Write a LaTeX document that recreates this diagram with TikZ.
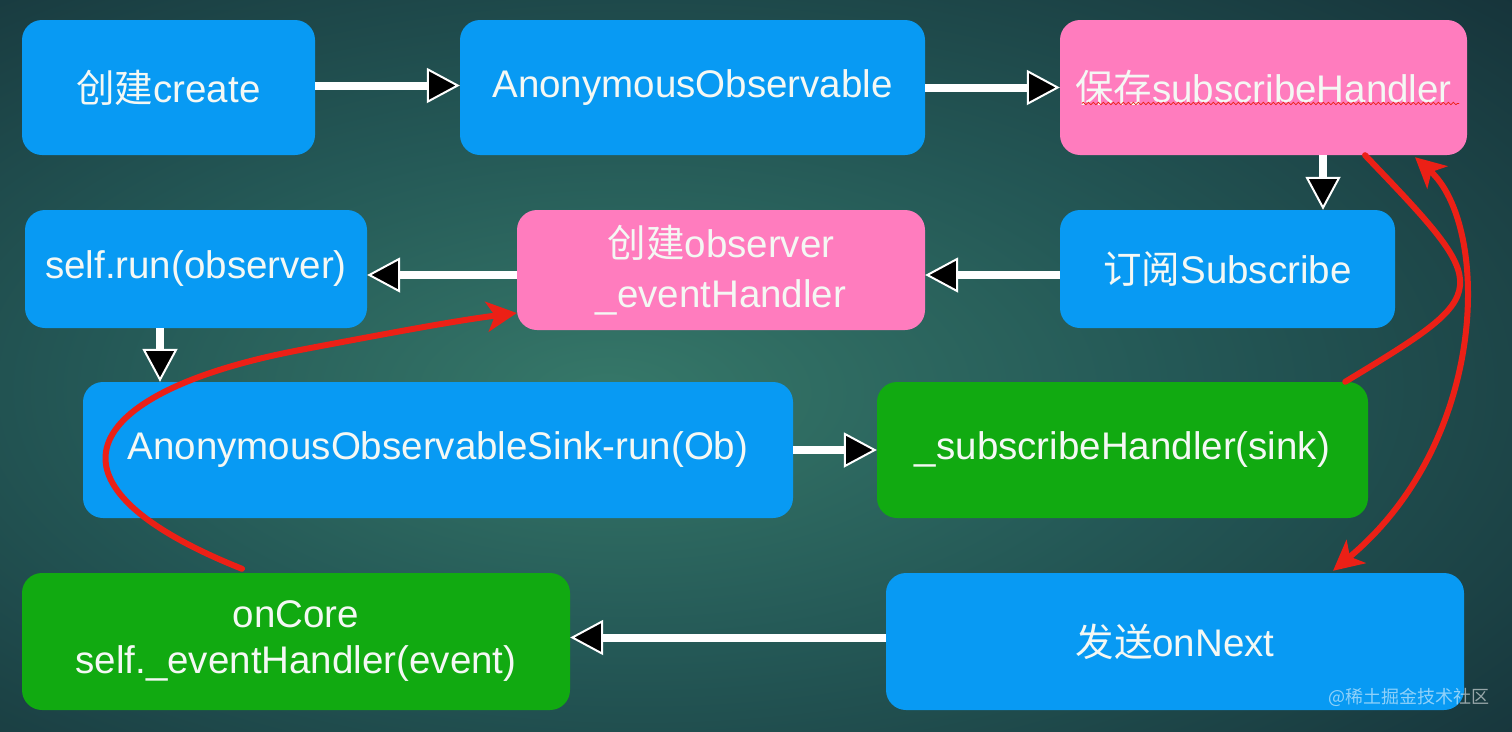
\documentclass[tikz,border=0pt]{standalone}
\usepackage{fontspec}
\setmainfont{Liberation Sans}
\newfontfamily\cjk{Noto Sans CJK SC}
\usetikzlibrary{arrows.meta,calc,decorations.pathmorphing}
\definecolor{boxblue}{RGB}{8,154,243}
\definecolor{boxpink}{RGB}{255,124,190}
\definecolor{boxgreen}{RGB}{17,170,17}
\definecolor{redarrow}{RGB}{236,32,22}
\definecolor{bgin}{RGB}{54,120,105}
\definecolor{bgmid}{RGB}{36,88,86}
\definecolor{bgout}{RGB}{20,46,54}
\definecolor{txt}{RGB}{244,248,244}
\pgfdeclareradialshading{bgshade}{\pgfpoint{-5bp}{-2bp}}{color(0bp)=(bgin); color(18bp)=(bgmid); color(42bp)=(bgout); color(100bp)=(bgout)}
\tikzset{
  rt/.tip={Stealth[length=30pt,width=30pt,inset=8pt]},
  box/.style={rectangle, rounded corners=20pt, inner sep=0pt, text=txt, align=center,
    font=\fontsize{38.5pt}{50pt}\selectfont},
  bluebox/.style={box, fill=boxblue},
  pinkbox/.style={box, fill=boxpink},
  greenbox/.style={box, fill=boxgreen},
  flow/.style={draw=white, line width=8pt,
    -{Triangle[length=33pt,width=35pt,fill=black,line width=2pt]}},
  redflow/.style={draw=redarrow, line width=6pt, line cap=round}
}
\begin{document}
\begin{tikzpicture}[x=1pt,y=-1pt]
\useasboundingbox (0,0) rectangle (1512,731);
\shade[shading=bgshade] (0,0) rectangle (1512,731);

\node[bluebox, minimum width=293pt, minimum height=135pt] (n1) at (168.5,87.5) {{\cjk 创建}create};
\node[bluebox, minimum width=465pt, minimum height=135pt] (n2) at (692.5,87.5) {AnonymousObservable};
\node[pinkbox, minimum width=407pt, minimum height=135pt] (n3) at (1263.5,87.5) {{\cjk 保存}subscribeHandler};
\node[bluebox, minimum width=342pt, minimum height=118pt] (n4) at (196,269) {self.run(observer)};
\node[pinkbox, minimum width=408pt, minimum height=120pt] (n5) at (721,270) {{\cjk 创建}observer\\\_eventHandler};
\node[bluebox, minimum width=335pt, minimum height=118pt] (n6) at (1227.5,269) {{\cjk 订阅}Subscribe};
\node[bluebox, minimum width=710pt, minimum height=136pt] (n7) at (438,450) {AnonymousObservableSink-run(Ob)};
\node[greenbox, minimum width=491pt, minimum height=136pt] (n8) at (1122.5,450) {\_subscribeHandler(sink)};
\node[greenbox, minimum width=548pt, minimum height=137pt, font=\fontsize{38.5pt}{46pt}\selectfont] (n9) at (296,641.5) {onCore\\self.\_eventHandler(event)};
\node[bluebox, minimum width=578pt, minimum height=137pt] (n10) at (1175,641.5) {{\cjk 发送}onNext};

% spell-check underline
\coordinate (ul1) at ($(n3.west)+(22,16)$);
\coordinate (ul2) at ($(n3.east)+(-8,16)$);
\draw[redarrow, line width=0.8pt, decorate, decoration={snake, amplitude=1.2pt, segment length=5pt}] (ul1) -- (ul2);

% white flow arrows
\draw[flow] ([yshift=2pt]n1.east) -- ([yshift=2pt]n1.east -| n2.west);
\draw[flow] (n2.east) -- (n3.west);
\draw[flow] ([xshift=59.5pt]n3.south) -- ([xshift=59.5pt]n3.south |- n6.north);
\draw[flow] ([yshift=-6pt]n6.west) -- ([yshift=-6pt]n6.west -| n5.east);
\draw[flow] ([yshift=-5pt]n5.west) -- ([yshift=-5pt]n5.west -| n4.east);
\draw[flow] ([xshift=-36pt]n4.south) -- ([xshift=-36pt]n4.south |- n7.north);
\draw[flow] (n7.east) -- (n8.west);
\draw[flow] ([yshift=4pt]n10.west) -- ([yshift=4pt]n10.west -| n9.east);

% red curves
\draw[redflow] ([xshift=-23pt]n8.north east) .. controls (1495,291) .. ([xshift=101.5pt]n3.south);
\draw[redflow, rt-rt] ([xshift=151.5pt,yshift=-2pt]n3.south) .. controls (1490,225) and (1490,440) .. ([xshift=158pt,yshift=2pt]n10.north);
\draw[redflow, -rt] ([xshift=-54pt,yshift=4pt]n9.north) .. controls (20,480) and (90,390) .. (300,350) .. controls (400,331) and (460,320) .. ([yshift=-43pt]n5.west);

% watermark
\node[anchor=east, text=white, opacity=0.55, font=\cjk\fontsize{18pt}{20pt}\selectfont, inner sep=0pt] (wm) at (1490,697) {@稀土掘金技术社区};
\end{tikzpicture}
\end{document}
